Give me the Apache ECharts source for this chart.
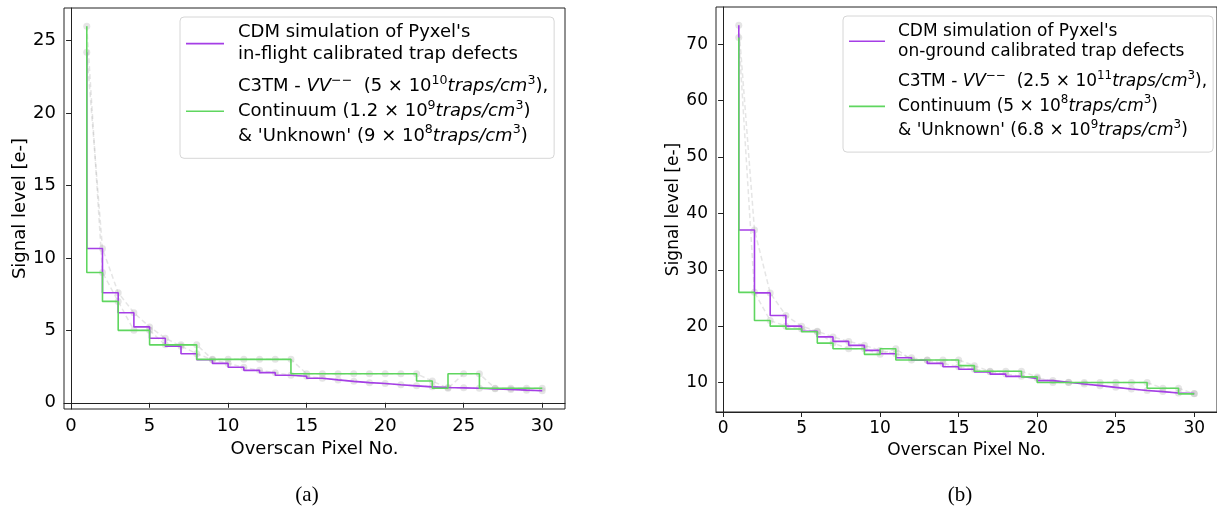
<!DOCTYPE html>
<html><head><meta charset="utf-8">
<script src="https://cdn.jsdelivr.net/npm/echarts@6/dist/echarts.min.js"></script>
<style>html,body{margin:0;padding:0;background:#fff}#c{width:1217px;height:510px}</style>
</head><body><div id="c"></div>
<script>
// ---- data ----
const pixelNo = [1,2,3,4,5,6,7,8,9,10,11,12,13,14,15,16,17,18,19,20,21,22,23,24,25,26,27,28,29,30];
// (a) in-flight calibration
const cdmA  = [24.2,10.65,7.6,6.22,5.24,4.46,3.91,3.39,2.97,2.72,2.45,2.24,2.08,1.9,1.83,1.69,1.58,1.48,1.39,1.33,1.24,1.17,1.1,1.05,1.03,1.0,0.96,0.92,0.87,0.83];
const c3tmA = [26.0,9.0,7.0,5.0,5.0,4.0,4.0,4.0,3.0,3.0,3.0,3.0,3.0,3.0,2.0,2.0,2.0,2.0,2.0,2.0,2.0,2.0,1.5,1.0,2.0,2.0,1.0,1.0,1.0,1.0];
// (b) on-ground calibration
const cdmB  = [73.35,37.06,25.9,21.9,20.0,19.1,18.1,17.3,16.6,15.7,15.1,14.4,13.95,13.4,12.8,12.35,11.9,11.5,11.1,10.75,10.35,10.05,9.75,9.45,9.15,8.85,8.6,8.4,8.15,8.05];
const c3tmB = [71.2,26,21,20,19.5,19,17,16,16,15,16,14,14,14,14,13,12,12,12,11,10,10,10,10,10,10,10,9,9,8];
// ticks
const xTicks  = [0,5,10,15,20,25,30];
const yTicksA = [0,5,10,15,20,25];
const yTicksB = [10,20,30,40,50,60,70];
// texts
const xName = 'Overscan Pixel No.';
const yName = 'Signal level [e-]';
const legendText = {
  cdmA: "{a|CDM simulation of Pyxel's}\n{a|in-flight calibrated trap defects}",
  c3tmA: "C3TM - {it|VV}{sup|−−}  (5 × 10{sup|10}{it|traps/cm}{sup|3}),\nContinuum (1.2 × 10{sup|9}{it|traps/cm}{sup|3})\n& 'Unknown' (9 × 10{sup|8}{it|traps/cm}{sup|3})",
  cdmB: "{a|CDM simulation of Pyxel's}\n{a|on-ground calibrated trap defects}",
  c3tmB: "C3TM - {it|VV}{sup|−−}  (2.5 × 10{sup|11}{it|traps/cm}{sup|3}),\nContinuum (5 × 10{sup|8}{it|traps/cm}{sup|3})\n& 'Unknown' (6.8 × 10{sup|9}{it|traps/cm}{sup|3})"
};
const captions = ['(a)', '(b)'];

// ---- style ----
const FF = 'DejaVu Sans';
const PURPLE = '#a53ee6';
const GREEN = '#5fd65f';
const GREY = 'rgba(170,170,170,0.3)';
const AX = '#222';

const pairs = (ys) => pixelNo.map((x, i) => [x, ys[i]]);

function xAxisDef(gi, gap, fs) {
  return {
    gridIndex: gi, type: 'value', min: -0.45, max: 31.45,
    axisLine: { show: true, lineStyle: { color: AX, width: 1 } },
    axisTick: { show: true, customValues: xTicks, length: 5, lineStyle: { color: AX } },
    axisLabel: { customValues: xTicks, fontSize: fs, fontFamily: FF, color: '#000', margin: 8 },
    splitLine: { show: false },
    name: xName, nameLocation: 'middle', nameGap: gap,
    nameTextStyle: { fontSize: fs, fontFamily: FF, color: '#000' }
  };
}
function yAxisDef(gi, mn, mx, ticks, gap, fs) {
  return {
    gridIndex: gi, type: 'value', min: mn, max: mx,
    axisLine: { show: true, lineStyle: { color: AX, width: 1 } },
    axisTick: { show: true, customValues: ticks, length: 5, lineStyle: { color: AX } },
    axisLabel: { customValues: ticks, fontSize: fs, fontFamily: FF, color: '#000', margin: 8 },
    splitLine: { show: false },
    name: yName, nameLocation: 'middle', nameGap: gap,
    nameTextStyle: { fontSize: fs, fontFamily: FF, color: '#000' }
  };
}
function greySeries(gi, ys) {
  return {
    type: 'line', xAxisIndex: gi, yAxisIndex: gi, data: pairs(ys),
    symbol: 'circle', symbolSize: 7, showSymbol: true,
    itemStyle: { color: GREY, borderWidth: 0 },
    lineStyle: { color: GREY, width: 1.5, type: [5, 3] },
    z: 4, silent: true
  };
}
function stepSeries(gi, name, ys, color, z) {
  return {
    type: 'line', name: name, xAxisIndex: gi, yAxisIndex: gi, data: pairs(ys),
    step: 'start', symbol: 'none', showSymbol: false,
    itemStyle: { color: color }, lineStyle: { color: color, width: 1.6 }, z: z
  };
}
function legendTextStyle(fs, lh1, lh2, pad) {
  return {
    fontSize: fs, fontFamily: FF, color: '#000', lineHeight: lh2, padding: [0, 0, 0, pad],
    rich: {
      a: { fontSize: fs, fontFamily: FF, color: '#000', lineHeight: lh1 },
      it: { fontSize: fs, fontFamily: FF, color: '#000', fontStyle: 'italic', lineHeight: lh2 },
      sup: { fontSize: fs * 0.7, fontFamily: FF, color: '#000', lineHeight: fs * 0.78, verticalAlign: 'top' }
    }
  };
}
function legendDef(names, left, top, iw, gap, padding, ts) {
  return {
    data: names.map(n => ({ name: n, icon: 'rect' })),
    orient: 'vertical', left: left, top: top,
    itemWidth: iw, itemHeight: 1.6, itemGap: gap,
    padding: padding,
    backgroundColor: '#fff', borderColor: '#d6d6d6', borderWidth: 1, borderRadius: 4,
    selectedMode: false,
    formatter: (n) => legendText[n],
    textStyle: ts
  };
}

const chart = echarts.init(document.getElementById('c'), null, { renderer: 'canvas' });
chart.setOption({
  animation: false,
  backgroundColor: '#fff',
  grid: [
    { left: 64, top: 8, width: 501, height: 401, show: true, borderColor: AX, borderWidth: 1, backgroundColor: 'transparent' },
    { left: 716, top: 7, width: 501, height: 405, show: true, borderColor: AX, borderWidth: 1, backgroundColor: 'transparent' }
  ],
  xAxis: [xAxisDef(0, 27, 18), xAxisDef(1, 25, 17)],
  yAxis: [yAxisDef(0, -0.43, 27.26, yTicksA, 35, 18), yAxisDef(1, 4.78, 76.6, yTicksB, 31, 17)],
  legend: [
    legendDef(['cdmA', 'c3tmA'], 180, 17, 38, 9, [5, 6, 10, 6], legendTextStyle(18, 21.6, 24.7, 9)),
    legendDef(['cdmB', 'c3tmB'], 843, 16, 36, 8, [5, 6, 9, 6], legendTextStyle(17, 20.3, 24.5, 8))
  ],
  series: [
    stepSeries(0, 'cdmA', cdmA, PURPLE, 5),
    stepSeries(0, 'c3tmA', c3tmA, GREEN, 6),
    greySeries(0, cdmA), greySeries(0, c3tmA),
    stepSeries(1, 'cdmB', cdmB, PURPLE, 5),
    stepSeries(1, 'c3tmB', c3tmB, GREEN, 6),
    greySeries(1, cdmB), greySeries(1, c3tmB)
  ],
  graphic: [
    { type: 'text', x: 307, y: 495, style: { text: captions[0], font: '21px "Liberation Serif"', fill: '#000', align: 'center', verticalAlign: 'middle' } },
    { type: 'text', x: 960, y: 495, style: { text: captions[1], font: '21px "Liberation Serif"', fill: '#000', align: 'center', verticalAlign: 'middle' } }
  ]
});
</script>
</body></html>
